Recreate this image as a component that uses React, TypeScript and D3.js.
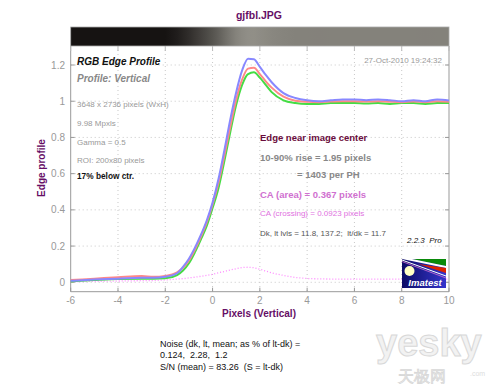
import * as d3 from 'd3'

// edge position in pixels
const positions = [-6, -5, -4, -3, -2.5, -2, -1.5, -1.25, -1, -0.75, -0.5, -0.25, 0, 0.25, 0.5, 0.75, 1, 1.25, 1.5, 1.75, 2, 2.25, 2.5, 3, 3.5, 4, 4.5, 5, 5.5, 6, 6.5, 7, 7.5, 8, 8.5, 9, 9.5, 10]
const blueProfile = [0.008, 0.015, 0.02, 0.025, 0.025, 0.03, 0.05, 0.085, 0.13, 0.19, 0.26, 0.34, 0.44, 0.57, 0.73, 0.9, 1.05, 1.17, 1.235, 1.232, 1.19, 1.145, 1.105, 1.045, 1.018, 1.005, 1.0, 1.005, 1.01, 1.01, 1.005, 1.01, 1.006, 1.0, 1.006, 1.0, 1.01, 1.004]
const redProfile = [0.012, 0.02, 0.028, 0.035, 0.03, 0.035, 0.055, 0.08, 0.12, 0.18, 0.25, 0.33, 0.43, 0.55, 0.7, 0.86, 1.01, 1.12, 1.18, 1.185, 1.15, 1.11, 1.075, 1.025, 1.003, 0.997, 0.995, 0.998, 1.0, 1.0, 0.998, 1.0, 0.997, 0.995, 0.998, 0.995, 1.0, 0.997]
const greenProfile = [0.005, 0.012, 0.018, 0.02, 0.02, 0.022, 0.04, 0.065, 0.105, 0.165, 0.235, 0.31, 0.41, 0.52, 0.67, 0.83, 0.98, 1.09, 1.15, 1.16, 1.13, 1.09, 1.05, 1.005, 0.99, 0.985, 0.985, 0.99, 0.99, 0.99, 0.988, 0.99, 0.985, 0.99, 0.99, 0.985, 0.99, 0.99]
const caDiff = [0.003, 0.005, 0.007, 0.009, 0.01, 0.013, 0.018, 0.02, 0.024, 0.028, 0.033, 0.038, 0.044, 0.052, 0.06, 0.068, 0.075, 0.081, 0.083, 0.08, 0.072, 0.062, 0.052, 0.038, 0.027, 0.021, 0.019, 0.018, 0.018, 0.017, 0.017, 0.017, 0.017, 0.017, 0.017, 0.017, 0.017, 0.017]

const xTicks = [-6, -4, -2, 0, 2, 4, 6, 8, 10]
const yTicks = [0, 0.2, 0.4, 0.6, 0.8, 1, 1.2]

const infoLines = ['3648 x 2736 pixels (WxH)', '9.98 Mpxls', 'Gamma = 0.5', 'ROI: 200x80 pixels']
const noiseLines = ['Noise (dk, lt, mean; as % of lt-dk) =', '0.124,  2.28,  1.2', 'S/N (mean) = 83.26  (S = lt-dk)']

const font = '"Liberation Sans", Arial, sans-serif'
const purple = '#660e66'

export default function App() {
  const width = 500
  const height = 384
  const left = 70.7, right = 449, top = 46, bottom = 291.7

  const x = d3.scaleLinear().domain([-6, 10]).range([left, right])
  const y = d3.scaleLinear().domain([-0.052, 1.305]).range([bottom, top])

  const line = (vals: number[]) =>
    d3.line<number>()
      .x((_, i) => x(positions[i]))
      .y(d => y(d))
      .curve(d3.curveMonotoneX)(vals) || ''

  // bar shade follows the mean profile
  const shade = d3.scaleLinear<string>().domain([0, 1]).range(['#161312', '#86847d'])
  const barStops = positions.map((p, i) => {
    const v = Math.max(0, (blueProfile[i] + redProfile[i] + greenProfile[i]) / 3 - 0.03)
    return { offset: (x(p) - left) / (right - left), color: shade(Math.pow(v, 0.6)) }
  })

  return (
    <svg width={width} height={height} style={{ position: 'absolute', left: 0, top: 0, background: '#fff' }} fontFamily={font}>
      <defs>
        <linearGradient id="edgeBar" x1="0" x2="1" y1="0" y2="0">
          {barStops.map((s, i) => <stop key={i} offset={s.offset} stopColor={s.color} />)}
        </linearGradient>
        <linearGradient id="logoBg" x1="0" x2="1" y1="0" y2="0">
          <stop offset="0" stopColor="#0c0c66" />
          <stop offset="1" stopColor="#3535cc" />
        </linearGradient>
      </defs>

      <text x={259} y={19} textAnchor="middle" fontSize={10.5} fontWeight="bold" fill={purple}>gjfbl.JPG</text>

      <rect x={left} y={27} width={right - left} height={top - 27} fill="url(#edgeBar)" stroke="#aaa" strokeWidth={0.8} />

      {/* grid */}
      {xTicks.slice(1, -1).map(t => (
        <line key={'gx' + t} x1={x(t)} x2={x(t)} y1={top} y2={bottom} stroke="#c8c8c8" strokeDasharray="1,3" />
      ))}
      {yTicks.map(t => (
        <line key={'gy' + t} x1={left} x2={right} y1={y(t)} y2={y(t)} stroke="#c8c8c8" strokeDasharray="1,3" />
      ))}

      {/* frame and ticks */}
      <path d={`M${left},${top}V${bottom}H${right}V${top}`} fill="none" stroke="#999" strokeWidth={1} />
      {xTicks.map(t => (
        <g key={'tx' + t}>
          <line x1={x(t)} x2={x(t)} y1={bottom} y2={bottom - 4} stroke="#999" />
          <line x1={x(t)} x2={x(t)} y1={top} y2={top + 5} stroke="#bbb" />
          <text x={x(t)} y={303.5} textAnchor="middle" fontSize={10} fill="#999">{t}</text>
        </g>
      ))}
      {yTicks.map(t => (
        <g key={'ty' + t}>
          <line x1={left} x2={left + 4} y1={y(t)} y2={y(t)} stroke="#999" />
          <line x1={right} x2={right - 4} y1={y(t)} y2={y(t)} stroke="#999" />
          <text x={65} y={y(t) + 3.5} textAnchor="end" fontSize={10} fill="#999">{t}</text>
        </g>
      ))}

      {/* curves */}
      <path d={line(caDiff)} fill="none" stroke="#ff88ff" strokeWidth={1.3} strokeDasharray="1,2" />
      <path d={line(greenProfile)} fill="none" stroke="#44dd44" strokeWidth={2} />
      <path d={line(redProfile)} fill="none" stroke="#ff8888" strokeWidth={2} />
      <path d={line(blueProfile)} fill="none" stroke="#8888ff" strokeWidth={2} />

      {/* left text block */}
      <text x={77} y={64.7} fontSize={10} fontWeight="bold" fontStyle="italic" fill="#111">RGB Edge Profile</text>
      <text x={77} y={81.7} fontSize={10} fontWeight="bold" fontStyle="italic" fill="#888">Profile: Vertical</text>
      {infoLines.map((s, i) => (
        <text key={s} x={77} y={106.7 + i * 18.9} fontSize={8} fill="#999">{s}</text>
      ))}
      <text x={77} y={179.3} fontSize={8.3} fontWeight="bold" fill="#111">17% below ctr.</text>

      <text x={442} y={63.3} textAnchor="end" fontSize={8} fill="#999">27-Oct-2010 19:24:32</text>

      {/* right text block */}
      <text x={260} y={140.7} fontSize={9.5} fontWeight="bold" fill="#6a0c3c">Edge near image center</text>
      <text x={260} y={161} fontSize={9.5} fontWeight="bold" fill="#888">10-90% rise = 1.95 pixels</text>
      <text x={297} y={178} fontSize={9.5} fontWeight="bold" fill="#888">= 1403 per PH</text>
      <text x={260} y={198.3} fontSize={9.5} fontWeight="bold" fill="#d070d0">CA (area) = 0.367 pixels</text>
      <text x={260} y={215.7} fontSize={8} fill="#e070e0">CA (crossing) = 0.0923 pixels</text>
      <text x={260} y={235.7} fontSize={8} fill="#555" style={{ whiteSpace: 'pre' }}>Dk, lt lvls = 11.8, 137.2;  lt/dk = 11.7</text>
      <text x={407} y={242.7} fontSize={8} fontStyle="italic" fill="#111" style={{ whiteSpace: 'pre' }}>2.2.3  Pro</text>

      {/* Imatest logo */}
      <g>
        <rect x={402} y={259} width={44} height={29} fill="url(#logoBg)" />
        <polygon points="412,259 446,259 446,266" fill="#0a8a0a" />
        <polygon points="402,259 412,259 446,266 446,268" fill="#fff" />
        <polygon points="418,264 446,268 446,273" fill="#dd2200" />
        <line x1={402} y1={260} x2={446} y2={276} stroke="#fff" strokeWidth={1} />
        <line x1={402} y1={261.5} x2={446} y2={278} stroke="#d070d0" strokeWidth={0.8} />
        <circle cx={409.5} cy={271} r={5} fill="#ffffc4" />
        <text x={425} y={285.5} textAnchor="middle" fontSize={9.5} fontWeight="bold" fontStyle="italic" fill="#fff">Imatest</text>
      </g>

      {/* axis labels */}
      <text x={259} y={317.3} textAnchor="middle" fontSize={10} fontWeight="bold" fill={purple}>Pixels (Vertical)</text>
      <text transform="translate(45,168) rotate(-90)" textAnchor="middle" fontSize={10} fontWeight="bold" fill={purple}>Edge profile</text>

      {/* noise text */}
      {noiseLines.map((s, i) => (
        <text key={s} x={160} y={346.7 + i * 11.7} fontSize={9} fill="#111" style={{ whiteSpace: 'pre' }}>{s}</text>
      ))}

      {/* watermark */}
      <text x={376} y={356} fontSize={38} fontWeight="bold" fill="#f2f2f2" stroke="#d8d8d8" strokeWidth={1}>yesky</text>
      <text x={470} y={376} fontSize={7} fill="#ddd">.com</text>
      <text x={398} y={382} fontSize={16} fill="#f2f2f2" stroke="#d8d8d8" strokeWidth={0.8}>天极网</text>
    </svg>
  )
}
